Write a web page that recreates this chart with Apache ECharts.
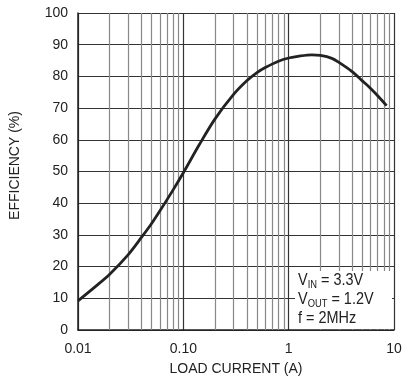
<!DOCTYPE html>
<html>
<head>
<meta charset="utf-8">
<script src="https://cdn.jsdelivr.net/npm/echarts@6/dist/echarts.min.js"></script>
<style>html,body{margin:0;padding:0;background:#fff;}#c{width:410px;height:385px;}</style>
</head>
<body>
<div id="c"></div>
<script>
var loadCurrent = [0.01, 0.015, 0.02, 0.03, 0.04, 0.05, 0.06, 0.08, 0.1, 0.142, 0.2, 0.3, 0.4, 0.5, 0.6, 0.8, 1, 1.26, 1.66, 2, 2.57, 3, 4, 5, 6, 7, 8.5];
var efficiency  = [9.2, 14.0, 17.6, 23.8, 29.2, 33.6, 37.6, 44.2, 49.6, 58.5, 66.6, 74.3, 78.6, 81.2, 82.8, 84.8, 85.8, 86.4, 86.8, 86.6, 85.7, 84.4, 81.5, 78.6, 76.2, 73.9, 70.8];
var xTickLabels = {'0.01':'0.01','0.1':'0.10','1':'1','10':'10'};
var decades = [0.01, 0.1, 1];

var minorVals = [];
decades.forEach(function(d){ for (var k=2;k<=9;k++) minorVals.push(+(d*k).toPrecision(3)); });

var FONT = '"Liberation Sans", Arial, sans-serif';
var chart = echarts.init(document.getElementById('c'), null, {renderer:'canvas'});
chart.setOption({
  animation: false,
  backgroundColor: '#fff',
  grid: {left: 78, right: 16, top: 13, bottom: 55},
  xAxis: {
    type: 'log', logBase: 10, min: 0.01, max: 10,
    name: 'LOAD CURRENT (A)', nameLocation: 'middle', nameGap: 32,
    nameTextStyle: {fontFamily: FONT, fontSize: 14, color: '#222'},
    axisLine: {show: true, lineStyle: {color: '#222', width: 1.5}},
    axisTick: {show: false},
    axisLabel: {fontFamily: FONT, fontSize: 14, color: '#222', margin: 12,
      formatter: function(v){ var s = String(+v.toPrecision(3)); return xTickLabels[s] !== undefined ? xTickLabels[s] : s; }},
    splitLine: {show: true, lineStyle: {color: '#333', width: 1.2}}
  },
  yAxis: {
    type: 'value', min: 0, max: 100, interval: 10,
    name: 'EFFICIENCY (%)', nameLocation: 'middle', nameGap: 56,
    nameTextStyle: {fontFamily: FONT, fontSize: 14, color: '#222', padding: [0, 0, 0, 12]},
    axisLine: {show: true, lineStyle: {color: '#222', width: 1.5}},
    axisTick: {show: false},
    axisLabel: {fontFamily: FONT, fontSize: 14, color: '#222', margin: 10},
    splitLine: {show: true, lineStyle: {color: '#333', width: 1.2}}
  },
  series: [
    {
      type: 'line', data: [], silent: true, z: 1,
      markLine: {
        silent: true, symbol: 'none', label: {show: false},
        lineStyle: {color: '#888', width: 1.2, type: 'solid'},
        data: minorVals.map(function(v){ return {xAxis: v}; })
      }
    },
    {
      type: 'line', smooth: 0.3, showSymbol: false, z: 5,
      lineStyle: {color: '#222', width: 2.8},
      data: loadCurrent.map(function(x,i){ return [x, efficiency[i]]; })
    }
  ],
  graphic: [
    {type: 'rect', z: 50, shape: {x: 295, y: 271, width: 97, height: 58}, style: {fill: '#fff'}},
    {type: 'text', z: 51, x: 298, y: 271, scaleX: 0.85,
      style: {
        fontFamily: FONT, fontSize: 17, fill: '#222', lineHeight: 19,
        rich: {
          m: {fontFamily: FONT, fontSize: 17, fill: '#222', lineHeight: 19},
          s: {fontFamily: FONT, fontSize: 11, fill: '#222', lineHeight: 19, verticalAlign: 'bottom', padding: [5,0,0,0]}
        },
        text: '{m|V}{s|IN}{m| = 3.3V}\n{m|V}{s|OUT}{m| = 1.2V}\n{m|f = 2MHz}'
      }
    }
  ]
});
</script>
</body>
</html>
